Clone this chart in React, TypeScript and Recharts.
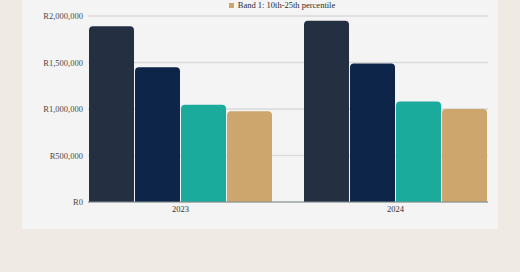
import { Bar, BarChart, CartesianGrid, XAxis, YAxis } from "recharts";

const YEARS = ["2023", "2024"];
const BAND_4 = [1890000, 1950000];
const BAND_3 = [1450000, 1490000];
const BAND_2 = [1045000, 1080000];
const BAND_1 = [975000, 1000000];
const Y_TICKS = [0, 500000, 1000000, 1500000, 2000000];

const SERIES = [
	{ key: "band4", name: "Band 4: 75th-90th percentile", values: BAND_4, color: "#243042" },
	{ key: "band3", name: "Band 3: 50th-75th percentile", values: BAND_3, color: "#0C2548" },
	{ key: "band2", name: "Band 2: 25th-50th percentile", values: BAND_2, color: "#1AAB9D" },
	{ key: "band1", name: "Band 1: 10th-25th percentile", values: BAND_1, color: "#CCA66D" },
];

const FONT = "'Liberation Serif', serif";

function formatRand(v: number): string {
	return "R" + v.toLocaleString("en-US");
}

function Legend(): React.ReactElement {
	return (
		<div
			style={{
				position: "absolute",
				top: 17,
				left: 70,
				width: 380,
				display: "flex",
				flexWrap: "wrap",
				justifyContent: "center",
				columnGap: 14,
				fontFamily: FONT,
				fontSize: 8.5,
				lineHeight: "12px",
				color: "#2b2b2b",
			}}
		>
			{SERIES.map((s) => (
				<div key={s.key} style={{ display: "flex", alignItems: "center", whiteSpace: "nowrap" }}>
					<span style={{ width: 5, height: 5, background: s.color, marginRight: 4, display: "inline-block" }} />
					{s.name}
				</div>
			))}
		</div>
	);
}

export default function App(): React.ReactElement {
	const data = YEARS.map((year, i) => {
		const row: Record<string, string | number> = { year };
		SERIES.forEach((s) => {
			row[s.key] = s.values[i];
		});
		return row;
	});

	return (
		<div
			style={{
				position: "absolute",
				left: 0,
				top: 0,
				width: 520,
				height: 272,
				background: "#EFEBE4",
				overflow: "hidden",
			}}
		>
			<div
				style={{
					position: "absolute",
					left: 22,
					top: -30,
					width: 476,
					height: 259,
					background: "#F4F4F4",
				}}
			>
				<Legend />
				<div style={{ position: "absolute", left: 0, top: 30 }}>
					<BarChart
						width={476}
						height={228}
						data={data}
						margin={{ top: 16, right: 10, bottom: 6, left: 0 }}
						barCategoryGap={16}
						barGap={1}
					>
						<CartesianGrid vertical={false} stroke="#DADADA" strokeWidth={1.5} />
						<XAxis
							dataKey="year"
							height={20}
							padding={{ left: -15, right: -15 }}
							tickLine={false}
							tickSize={0}
							tickMargin={4}
							axisLine={{ stroke: "#7f8b8b" }}
							tick={{ fontSize: 8.5, fontFamily: FONT, fill: "#333" }}
						/>
						<YAxis
							width={66}
							domain={[0, 2000000]}
							ticks={Y_TICKS}
							tickFormatter={formatRand}
							axisLine={false}
							tickLine={false}
							tickSize={0}
							tickMargin={5}
							tick={{ fontSize: 8.5, fontFamily: FONT, fill: "#4a4a4a" }}
						/>
						{SERIES.map((s) => (
							<Bar
								key={s.key}
								dataKey={s.key}
								name={s.name}
								fill={s.color}
								radius={[4, 4, 0, 0]}
								isAnimationActive={false}
							/>
						))}
					</BarChart>
				</div>
			</div>
		</div>
	);
}
